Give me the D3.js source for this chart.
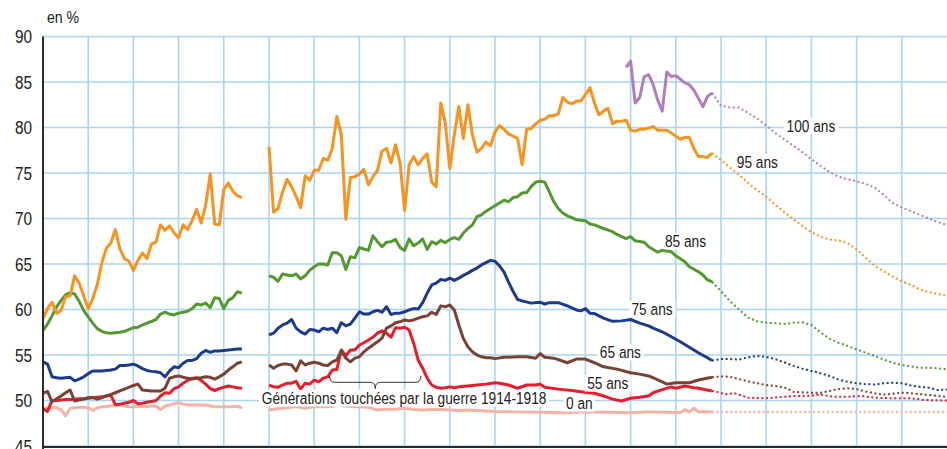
<!DOCTYPE html>
<html>
<head>
  <meta charset="utf-8">
  <title>Part des femmes par âge</title>
  <style>
    body {
      margin: 0;
      padding: 0;
      background: white;
      font-family: "Liberation Sans", Arial, sans-serif;
    }
    .grid line {
      stroke: #a9d4f2;
      stroke-width: 1.6;
    }
    .axis-line {
      stroke: #2b2b2b;
      stroke-width: 2;
    }
    .tick-label {
      font-size: 18.5px;
      fill: #222;
    }
    .serie {
      fill: none;
      stroke-width: 3;
      stroke-linejoin: round;
    }
    .proj {
      fill: none;
      stroke-width: 2;
      stroke-dasharray: 2 2.6;
    }
    .lbl {
      font-size: 16.5px;
      fill: #222;
    }
    .brace {
      fill: none;
      stroke: #333;
      stroke-width: 1;
    }
  </style>
</head>
<body>
  <div id="chart"></div>

  <script src="https://cdn.jsdelivr.net/npm/d3@7"></script>
  <script>
    // tick values
    var yTicks = [45, 50, 55, 60, 65, 70, 75, 80, 85, 90]
    var xGrid = [1880, 1890, 1900, 1910, 1920, 1930, 1940, 1950, 1960, 1970,
                 1980, 1990, 2000, 2010, 2020, 2030, 2040, 2050, 2060]

    // observed values (en %), null = années de guerre sans données
    var age0Obs = [[1870,49.1],[1871,49.2],[1872,49.2],[1873,49.2],[1874,49.0],[1875,48.3],[1876,49.15],[1877,49.2],
      [1878,49.25],[1879,49.25],[1880,49.2],[1881,48.9],[1882,49.2],[1883,49.3],[1884,49.35],[1885,49.4],[1886,49.45],
      [1887,49.5],[1888,49.4],[1889,49.3],[1890,49.3],[1891,49.35],[1892,49.35],[1893,49.35],[1894,49.4],[1895,49.4],
      [1896,49.0],[1897,49.4],[1898,49.5],[1899,49.65],[1900,49.75],[1901,49.6],[1902,49.5],[1903,49.5],[1904,49.5],
      [1905,49.5],[1906,49.5],[1907,49.4],[1908,49.3],[1909,49.3],[1910,49.3],[1911,49.3],[1912,49.35],[1913,49.35],
      [1914,49.2],[1917,null],
      [1920,48.95],[1922,49.1],[1924,49.2],[1926,49.35],[1928,49.15],[1930,49.3],[1932,49.3],[1934,49.35],[1935,49.6],
      [1936,49.45],[1938,49.35],[1940,49.3],[1942,49.25],[1944,48.95],[1946,49.05],[1948,49.05],[1950,49.15],[1952,49.0],
      [1954,48.95],[1956,49.0],[1958,49.0],[1960,48.95],[1962,48.9],[1964,48.95],[1966,48.9],[1968,48.85],[1970,48.8],
      [1975,48.75],[1980,48.7],[1985,48.65],[1990,48.75],[1995,48.7],[2000,48.65],[2004,48.75],[2008,48.7],[2011,48.65],
      [2012,49.0],[2013,48.75],[2014,49.15],[2015,48.75],[2016,48.8],[2018,48.75]]
    var age0Proj = [[2018,48.75],[2030,48.75],[2050,48.75],[2070,48.75]]

    var age55Obs = [[1870,49.1],[1871,48.8],[1872,50.0],[1873,50.0],[1874,50.05],[1875,50.1],[1876,50.1],[1877,50.15],
      [1878,50.2],[1879,50.2],[1880,50.25],[1881,50.3],[1882,50.35],[1883,50.4],[1884,50.5],[1885,50.6],[1886,49.55],
      [1887,49.6],[1888,49.7],[1889,49.8],[1890,50.0],[1891,49.65],[1892,49.7],[1893,49.8],[1894,49.9],[1895,50.0],
      [1896,50.5],[1897,50.85],[1898,50.8],[1899,51.3],[1900,51.5],[1901,51.9],[1902,52.2],[1903,52.45],[1904,52.5],
      [1905,52.2],[1906,51.8],[1907,51.3],[1908,51.1],[1909,51.3],[1910,51.45],[1911,51.6],[1912,51.5],[1913,51.4],
      [1914,51.35],[1917,null],
      [1920,51.7],[1921,51.5],[1922,51.45],[1923,51.7],[1924,51.9],[1925,51.9],[1926,52.1],[1927,51.25],[1928,51.9],
      [1929,51.8],[1930,52.25],[1931,52.05],[1932,52.45],[1933,52.6],[1934,53.35],[1935,53.4],[1936,55.55],[1937,54.9],
      [1938,55.55],[1939,55.55],[1940,56.1],[1941,56.35],[1942,56.65],[1943,56.95],[1944,57.4],[1945,57.65],[1946,57.4],
      [1947,56.95],[1948,58.0],[1949,57.95],[1950,58.05],[1951,57.75],[1952,56.3],[1953,54.45],[1954,53.55],[1955,52.45],
      [1956,51.7],[1957,51.45],[1958,51.35],[1959,51.4],[1960,51.5],[1961,51.4],[1962,51.5],[1964,51.6],[1966,51.7],
      [1968,51.8],[1970,51.95],[1971,51.9],[1973,51.7],[1975,51.35],[1977,51.7],[1979,51.7],[1980,51.8],[1981,51.45],
      [1984,51.25],[1987,51.1],[1989,50.95],[1992,50.8],[1994,50.5],[1996,50.15],[1998,49.95],[2000,50.25],[2002,50.35],
      [2004,50.5],[2005,50.85],[2007,51.2],[2009,51.5],[2010,51.35],[2012,51.6],[2014,51.4],[2015,51.35],[2018,51.05]]
    var age55Proj = [[2018,51.05],[2019,50.95],[2021,50.7],[2023,50.8],[2026,50.3],[2030,50.25],[2034,50.4],[2036,50.5],
      [2039,50.5],[2042,50.65],[2045,50.4],[2048,50.4],[2051,50.5],[2054,50.3],[2058,50.25],[2062,50.25],[2065,50.05],
      [2070,50.0]]

    var age65Obs = [[1870,50.8],[1871,51.0],[1872,49.85],[1873,50.2],[1874,50.5],[1875,50.85],[1876,51.15],[1877,49.95],
      [1878,50.05],[1879,50.15],[1880,50.3],[1881,50.35],[1882,50.15],[1883,50.3],[1884,50.5],[1885,50.65],[1886,50.85],
      [1887,51.05],[1888,51.25],[1889,51.45],[1890,51.65],[1891,51.8],[1892,51.15],[1893,51.1],[1894,51.05],[1895,51.05],
      [1896,51.05],[1897,51.35],[1898,52.45],[1899,52.6],[1900,52.7],[1901,52.55],[1902,52.45],[1903,52.35],[1904,52.45],
      [1905,52.5],[1906,52.6],[1907,52.55],[1908,52.35],[1909,52.6],[1910,52.9],[1911,53.35],[1912,53.7],[1913,54.1],
      [1914,54.25],[1917,null],
      [1920,53.9],[1921,53.55],[1922,53.85],[1923,54.0],[1924,54.0],[1925,53.9],[1926,53.25],[1927,54.35],[1928,53.9],
      [1929,54.1],[1930,54.2],[1931,54.1],[1932,53.9],[1933,53.85],[1934,54.25],[1935,54.45],[1936,55.45],[1937,54.65],
      [1938,54.25],[1939,54.65],[1940,54.8],[1941,55.35],[1942,55.75],[1943,56.1],[1944,56.45],[1945,56.85],[1946,57.95],
      [1947,58.2],[1948,58.55],[1949,58.65],[1950,58.85],[1951,58.75],[1952,58.85],[1953,59.05],[1954,59.2],[1955,59.3],
      [1956,59.7],[1957,59.45],[1958,60.4],[1959,60.3],[1960,60.5],[1961,59.95],[1962,58.3],[1963,56.8],[1964,55.9],
      [1965,55.35],[1966,55.0],[1967,54.8],[1968,54.7],[1969,54.7],[1970,54.6],[1972,54.75],[1975,54.8],[1977,54.8],
      [1979,54.65],[1980,55.15],[1981,54.75],[1983,54.65],[1986,54.15],[1988,54.55],[1990,54.55],[1992,54.15],[1994,53.7],
      [1997,53.45],[2000,53.05],[2002,52.9],[2004,52.7],[2005,52.5],[2007,52.05],[2008,51.8],[2010,51.95],[2011,51.95],
      [2013,51.95],[2015,52.25],[2018,52.55]]
    var age65Proj = [[2018,52.55],[2020,52.65],[2022,52.6],[2024,52.35],[2026,52.1],[2028,51.9],[2030,51.7],[2032,51.6],
      [2034,51.45],[2036,50.95],[2038,50.9],[2040,50.85],[2042,50.85],[2044,51.05],[2046,51.25],[2048,51.35],[2050,51.25],
      [2052,51.0],[2054,50.8],[2056,50.65],[2058,50.75],[2060,50.85],[2062,50.8],[2064,50.7],[2066,50.6],[2068,50.5],
      [2070,50.4]]

    var age75Obs = [[1870,54.25],[1871,54.0],[1872,52.6],[1873,52.5],[1874,52.45],[1875,52.5],[1876,52.55],[1877,52.15],
      [1878,52.35],[1879,52.6],[1880,52.95],[1881,53.25],[1882,53.25],[1883,53.25],[1884,53.3],[1885,53.35],[1886,53.45],
      [1887,53.85],[1888,53.85],[1889,53.9],[1890,54.0],[1891,53.8],[1892,53.5],[1893,53.3],[1894,53.2],[1895,53.15],
      [1896,53.05],[1897,52.6],[1898,53.25],[1899,53.7],[1900,53.6],[1901,54.1],[1902,54.4],[1903,54.4],[1904,54.6],
      [1905,55.2],[1906,55.5],[1907,55.3],[1908,55.45],[1909,55.45],[1910,55.5],[1911,55.55],[1912,55.6],[1913,55.65],
      [1914,55.65],[1917,null],
      [1920,57.2],[1921,57.4],[1922,57.95],[1923,58.3],[1924,58.5],[1925,58.9],[1926,57.95],[1927,57.55],[1928,57.3],
      [1929,57.8],[1930,57.75],[1931,57.55],[1932,57.95],[1933,57.8],[1934,57.95],[1935,57.45],[1936,58.55],[1937,58.2],
      [1938,58.4],[1939,59.05],[1940,59.75],[1941,59.5],[1942,59.5],[1943,59.75],[1944,59.9],[1945,59.7],[1946,60.3],
      [1947,59.45],[1948,59.6],[1949,59.6],[1950,59.75],[1951,59.95],[1952,60.1],[1953,60.05],[1954,60.75],[1955,61.8],
      [1956,62.7],[1957,62.9],[1958,63.3],[1959,63.2],[1960,63.45],[1961,63.2],[1962,63.45],[1963,63.75],[1964,64.0],
      [1965,64.3],[1966,64.55],[1967,64.9],[1968,65.15],[1969,65.4],[1970,65.3],[1971,64.8],[1972,64.1],[1973,63.0],
      [1974,62.0],[1975,61.1],[1976,60.95],[1978,60.7],[1980,60.8],[1981,60.6],[1982,60.75],[1984,60.75],[1986,60.4],
      [1988,59.95],[1989,59.85],[1990,60.1],[1991,59.6],[1992,59.55],[1994,59.05],[1996,58.7],[1998,58.75],[2000,58.9],
      [2002,58.5],[2004,58.2],[2005,57.95],[2007,57.55],[2009,57.0],[2011,56.45],[2013,55.85],[2015,55.25],[2017,54.7],
      [2018,54.4]]
    var age75Proj = [[2018,54.4],[2020,54.55],[2022,54.55],[2024,54.5],[2026,54.75],[2028,54.9],[2030,54.8],[2032,54.55],
      [2034,54.2],[2036,53.8],[2038,53.5],[2040,53.25],[2042,53.0],[2044,52.7],[2046,52.3],[2048,52.05],[2050,51.9],
      [2052,51.8],[2054,51.75],[2056,51.9],[2058,51.95],[2060,51.9],[2062,51.65],[2064,51.5],[2066,51.4],[2068,51.15],
      [2070,51.2]]

    var age85Obs = [[1870,57.7],[1871,58.4],[1872,59.3],[1873,60.3],[1874,61.0],[1875,61.6],[1876,61.85],[1877,61.7],
      [1878,60.9],[1879,59.9],[1880,59.2],[1881,58.5],[1882,57.9],[1883,57.6],[1884,57.45],[1885,57.4],[1886,57.45],
      [1887,57.5],[1888,57.6],[1889,57.8],[1890,58.0],[1891,58.05],[1892,58.3],[1893,58.5],[1894,58.7],[1895,58.9],
      [1896,59.5],[1897,59.7],[1898,59.5],[1899,59.4],[1900,59.6],[1901,59.7],[1902,59.8],[1903,60.1],[1904,60.6],
      [1905,60.5],[1906,60.7],[1907,60.2],[1908,61.3],[1909,61.2],[1910,60.1],[1911,61.0],[1912,61.3],[1913,61.95],
      [1914,61.8],[1917,null],
      [1920,63.7],[1921,63.55],[1922,63.1],[1923,63.9],[1924,63.8],[1925,63.7],[1926,63.9],[1927,63.35],[1928,63.7],
      [1929,64.3],[1930,64.7],[1931,65.0],[1932,65.0],[1933,64.9],[1934,66.25],[1935,66.25],[1936,65.9],[1937,64.4],
      [1938,65.8],[1939,65.7],[1940,66.8],[1941,66.65],[1942,66.5],[1943,68.1],[1944,67.45],[1945,66.9],[1946,67.4],
      [1947,67.45],[1948,67.7],[1949,66.8],[1950,66.5],[1951,67.75],[1952,67.0],[1953,67.3],[1954,67.75],[1955,66.6],
      [1956,67.45],[1957,67.2],[1958,67.6],[1959,67.35],[1960,67.7],[1961,67.9],[1962,67.7],[1963,68.4],[1964,68.9],
      [1965,69.3],[1966,70.2],[1967,70.4],[1968,70.8],[1969,71.1],[1970,71.4],[1971,71.7],[1972,72.0],[1973,71.85],
      [1974,72.3],[1975,72.4],[1976,72.8],[1977,72.85],[1978,73.5],[1979,74.0],[1980,74.1],[1981,74.0],[1982,72.95],
      [1983,71.85],[1984,71.1],[1985,70.6],[1986,70.3],[1987,70.1],[1988,69.85],[1990,69.75],[1991,69.4],[1992,69.3],
      [1994,68.9],[1996,68.55],[1997,68.25],[1999,67.8],[2000,68.0],[2001,67.55],[2003,67.4],[2004,66.9],[2006,66.3],
      [2007,66.5],[2009,66.35],[2010,65.9],[2012,65.25],[2013,64.7],[2015,64.15],[2016,63.8],[2017,63.25],[2018,63.05]]
    var age85Proj = [[2018,63.05],[2020,62.0],[2022,60.9],[2024,60.0],[2026,59.1],[2028,58.7],[2030,58.55],[2032,58.5],
      [2034,58.4],[2036,58.55],[2038,58.6],[2040,58.3],[2042,57.5],[2044,56.8],[2046,56.35],[2048,56.0],[2050,55.6],
      [2052,55.25],[2054,54.9],[2056,54.5],[2058,54.15],[2060,53.9],[2062,53.75],[2064,53.6],[2066,53.6],[2068,53.55],
      [2070,53.4]]

    var age95Obs = [[1870,59.0],[1871,60.1],[1872,60.8],[1873,59.6],[1874,59.9],[1875,61.4],[1876,61.5],[1877,63.7],
      [1878,62.9],[1879,61.5],[1880,60.1],[1881,61.2],[1882,62.7],[1883,65.1],[1884,66.7],[1885,67.3],[1886,68.8],
      [1887,66.7],[1888,65.6],[1889,65.3],[1890,64.3],[1891,65.4],[1892,66.2],[1893,65.6],[1894,67.2],[1895,67.4],
      [1896,69.3],[1897,68.7],[1898,69.2],[1899,68.4],[1900,67.9],[1901,69.3],[1902,68.8],[1903,69.8],[1904,71.0],
      [1905,69.5],[1906,71.5],[1907,74.9],[1908,69.4],[1909,69.3],[1910,73.2],[1911,73.9],[1912,73.0],[1913,72.5],
      [1914,72.3],[1917,null],
      [1920,77.9],[1921,70.7],[1922,71.1],[1923,72.9],[1924,74.3],[1925,73.5],[1926,72.4],[1927,71.2],[1928,74.7],
      [1929,74.2],[1930,75.3],[1931,75.3],[1932,76.6],[1933,76.4],[1934,77.7],[1935,81.2],[1936,79.2],[1937,69.9],
      [1938,74.5],[1939,74.6],[1940,74.9],[1941,75.4],[1942,73.7],[1943,74.6],[1944,75.3],[1945,77.4],[1946,77.7],
      [1947,76.1],[1948,78.1],[1949,76.1],[1950,70.9],[1951,75.9],[1952,76.8],[1953,75.9],[1954,76.6],[1955,77.1],
      [1956,74.0],[1957,73.5],[1958,82.7],[1959,80.5],[1960,75.5],[1961,79.2],[1962,82.3],[1963,78.8],[1964,82.5],
      [1965,79.2],[1966,77.3],[1967,77.7],[1968,78.4],[1969,78.0],[1970,79.5],[1971,80.2],[1972,79.8],[1973,79.3],
      [1975,78.8],[1976,75.9],[1977,79.8],[1978,79.9],[1979,80.4],[1980,80.8],[1981,80.9],[1982,81.3],[1983,81.3],
      [1984,81.5],[1985,83.3],[1986,82.8],[1987,82.6],[1988,82.9],[1989,82.9],[1990,83.6],[1991,84.4],[1992,82.7],
      [1993,81.4],[1994,81.8],[1995,82.1],[1996,80.4],[1997,80.7],[1998,80.7],[1999,80.8],[2000,79.7],[2001,79.6],
      [2002,79.8],[2003,79.8],[2005,80.1],[2006,79.7],[2007,79.7],[2008,79.7],[2009,79.4],[2011,78.7],[2012,78.9],
      [2013,78.9],[2014,77.7],[2015,76.8],[2016,76.8],[2017,76.7],[2018,77.2]]
    var age95Proj = [[2018,77.2],[2020,76.4],[2022,75.6],[2024,74.8],[2026,73.9],[2028,73.1],[2030,72.4],[2032,71.5],
      [2034,70.7],[2036,69.9],[2038,69.2],[2040,68.5],[2042,68.0],[2044,67.7],[2046,67.6],[2048,67.3],[2050,66.6],
      [2052,65.7],[2054,64.8],[2056,64.2],[2058,63.6],[2060,63.1],[2062,62.7],[2064,62.2],[2066,61.9],[2068,61.7],
      [2070,61.5]]

    var age100Obs = [[1999,86.6],[2000,87.3],[2001,82.7],[2002,83.3],[2003,85.6],[2004,85.8],[2005,84.7],[2006,83.0],
      [2007,81.8],[2008,86.1],[2009,85.6],[2010,85.7],[2011,85.3],[2012,84.9],[2013,84.7],[2014,84.1],[2015,83.2],
      [2016,82.3],[2017,83.4],[2018,83.8]]
    var age100Proj = [[2018,83.8],[2020,82.4],[2022,82.2],[2024,82.2],[2026,81.6],[2028,81.0],[2030,80.2],[2032,79.4],
      [2034,78.7],[2036,78.0],[2038,77.3],[2040,76.5],[2042,75.8],[2044,75.1],[2046,74.6],[2048,74.3],[2050,74.1],
      [2052,73.8],[2054,73.4],[2056,72.6],[2058,71.7],[2060,71.2],[2062,70.8],[2064,70.4],[2066,70.0],[2068,69.6],
      [2070,69.3]]

    // series in drawing order
    var series = [
      { name: "0 an", obs: age0Obs, proj: age0Proj, color: "#f6b2a4" },
      { name: "55 ans", obs: age55Obs, proj: age55Proj, color: "#e61e2b" },
      { name: "65 ans", obs: age65Obs, proj: age65Proj, color: "#7a4233" },
      { name: "75 ans", obs: age75Obs, proj: age75Proj, color: "#1c3a8e" },
      { name: "85 ans", obs: age85Obs, proj: age85Proj, color: "#54992f" },
      { name: "95 ans", obs: age95Obs, proj: age95Proj, color: "#f7931e" },
      { name: "100 ans", obs: age100Obs, proj: age100Proj, color: "#b37dbd" }
    ]

    // label anchors [year, value]
    var labels = [
      { text: "100 ans", at: [2034.5, 79.5] },
      { text: "95 ans", at: [2023.5, 75.55] },
      { text: "85 ans", at: [2007.6, 66.87] },
      { text: "75 ans", at: [2000.2, 59.4] },
      { text: "65 ans", at: [1993.2, 54.64] },
      { text: "55 ans", at: [1990.4, 51.23] },
      { text: "0 an", at: [1985.7, 49.03] },
      { text: "Générations touchées par la guerre 1914-1918", at: [1918.4, 49.6] }
    ]

    var width = 947,
        height = 449,
        narrow = 0.83   // horizontal squeeze to mimic a condensed face

    var x = d3.scaleLinear().domain([1870, 2070]).range([43, 947])
    var y = d3.scaleLinear().domain([45, 90]).range([446, 36.5])

    var svg = d3.select("#chart")
      .append("svg")
      .attr("width", width)
      .attr("height", height)
      .style("display", "block")

    // grid
    var grid = svg.append("g").attr("class", "grid")

    grid.selectAll(".h")
      .data(yTicks)
      .enter().append("line")
      .attr("x1", x(1870))
      .attr("x2", x(2070))
      .attr("y1", function (d) { return y(d) })
      .attr("y2", function (d) { return y(d) })

    grid.selectAll(".v")
      .data(xGrid)
      .enter().append("line")
      .attr("x1", function (d) { return x(d) })
      .attr("x2", function (d) { return x(d) })
      .attr("y1", y(90))
      .attr("y2", y(45))

    // y tick labels
    svg.append("g")
      .selectAll("text")
      .data(yTicks)
      .enter().append("text")
      .attr("class", "tick-label")
      .attr("text-anchor", "end")
      .attr("transform", function (d) {
        return "translate(" + (x(1870) - 11) + "," + (y(d) + 6.5) + ") scale(" + narrow + ",1)"
      })
      .text(function (d) { return d })

    svg.append("text")
      .attr("class", "lbl")
      .attr("transform", "translate(" + (x(1870) + 4) + ",22.5) scale(" + narrow + ",1)")
      .style("font-size", "17px")
      .text("en %")

    // lines
    var line = d3.line()
      .defined(function (d) { return d[1] !== null })
      .x(function (d) { return x(d[0]) })
      .y(function (d) { return y(d[1]) })

    var lines = svg.append("g")

    series.forEach(function (s) {
      lines.append("path")
        .attr("class", "proj")
        .attr("d", line(s.proj))
        .style("stroke", s.color)
        .style("stroke-width", s.name === "0 an" ? 2.5 : 2)

      lines.append("path")
        .attr("class", "serie")
        .attr("d", line(s.obs))
        .style("stroke", s.color)
    })

    // brace under the war generations
    var bx0 = x(1933.4), bx1 = x(1953.6), bm = (bx0 + bx1) / 2
    var by0 = y(52.7), by1 = y(52.0), by2 = y(51.3)
    svg.append("path")
      .attr("class", "brace")
      .attr("d", "M" + bx0 + "," + by0 +
        "Q" + bx0 + "," + by1 + " " + (bx0 + 5) + "," + by1 +
        "L" + (bm - 5) + "," + by1 +
        "Q" + bm + "," + by1 + " " + bm + "," + by2 +
        "Q" + bm + "," + by1 + " " + (bm + 5) + "," + by1 +
        "L" + (bx1 - 5) + "," + by1 +
        "Q" + bx1 + "," + by1 + " " + bx1 + "," + by0)

    // labels with white background
    var lab = svg.append("g")
      .selectAll("g")
      .data(labels)
      .enter().append("g")
      .attr("transform", function (d) {
        return "translate(" + x(d.at[0]) + "," + y(d.at[1]) + ") scale(" + narrow + ",1)"
      })

    lab.append("text")
      .attr("class", "lbl")
      .text(function (d) { return d.text })

    lab.each(function () {
      var g = d3.select(this)
      var bb = g.select("text").node().getBBox()
      g.insert("rect", "text")
        .attr("x", bb.x - 3)
        .attr("y", bb.y + 1)
        .attr("width", bb.width + 6)
        .attr("height", bb.height - 2)
        .attr("fill", "white")
    })

    // axes
    svg.append("line")
      .attr("class", "axis-line")
      .attr("x1", x(1870)).attr("x2", x(1870))
      .attr("y1", y(90)).attr("y2", height)

    svg.append("line")
      .attr("class", "axis-line")
      .attr("x1", x(1870)).attr("x2", width)
      .attr("y1", y(45) + 1).attr("y2", y(45) + 1)
  </script>
</body>
</html>
